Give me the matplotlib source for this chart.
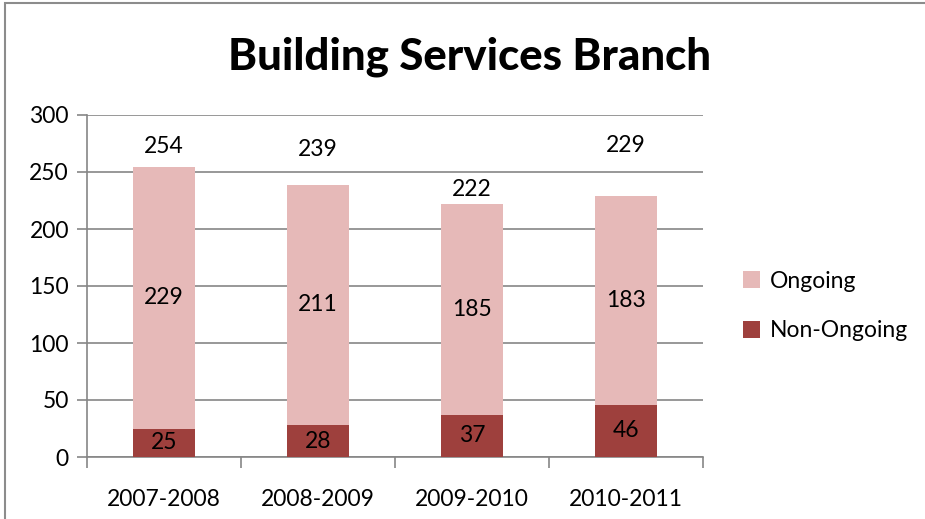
import matplotlib.pyplot as plt
from matplotlib.patches import Rectangle
import numpy as np

plt.rcParams['font.family'] = ['Lato', 'DejaVu Sans']

# Data
years = ['2007-2008', '2008-2009', '2009-2010', '2010-2011']
non_ongoing = [25, 28, 37, 46]
ongoing = [229, 211, 185, 183]

totals = np.array(non_ongoing) + np.array(ongoing)

fig = plt.figure(figsize=(9.25, 5.19), dpi=100)
ax = fig.add_axes([87 / 925, 1 - 457 / 519, 616 / 925, 342 / 519])

# outer chart border (top and left edges visible)
fig.add_artist(Rectangle((5 / 925, -0.05), 1.2, 1.05 - 3 / 519, transform=fig.transFigure,
                         fill=False, edgecolor='#8c8c8c', linewidth=1.5))

x = np.arange(len(years))
bar_w = 0.4
b1 = ax.bar(x, non_ongoing, bar_w, color='#9E403D', label='Non-Ongoing', zorder=3)
b2 = ax.bar(x, ongoing, bar_w, bottom=non_ongoing, color='#E6B9B8', label='Ongoing', zorder=3)

fs = 16.5
for rects in (b1, b2):
    for r in rects:
        ax.text(r.get_x() + r.get_width() / 2, r.get_y() + r.get_height() / 2,
                f'{int(r.get_height())}', ha='center', va='center', fontsize=fs, zorder=4)

# totals above each bar
total_offsets = [18, 31, 13, 44]
for xi, t, off in zip(x, totals, total_offsets):
    ax.text(xi, t + off, f'{t}', ha='center', va='center', fontsize=fs)

ax.set_xlim(-0.5, len(years) - 0.5)
ax.set_ylim(0, 300)
ax.set_yticks(np.arange(0, 301, 50))
ax.set_xticks(x)
ax.set_xticklabels(years, fontsize=fs)
ax.set_xticks(np.arange(-0.5, len(years)), minor=True)
ax.tick_params(axis='x', which='major', length=0, pad=23)
ax.tick_params(axis='x', which='minor', length=8, color='#868686', width=1.2)
ax.tick_params(axis='y', labelsize=fs, length=7, color='#868686', width=1.2, pad=6)

ax.yaxis.grid(True, color='#868686', linewidth=1.2, zorder=0)
ax.set_axisbelow(True)
for side in ('top', 'right'):
    ax.spines[side].set_visible(False)
for side in ('left', 'bottom'):
    ax.spines[side].set_color('#868686')
    ax.spines[side].set_linewidth(1.2)

fig.text(470 / 925, 1 - 57 / 519, 'Building Services Branch', ha='center', va='center',
         fontsize=31.5, fontweight='black')

handles, labels = ax.get_legend_handles_labels()
fig.legend(handles[::-1], labels[::-1], loc='center left', bbox_to_anchor=(722 / 925, 1 - 306 / 519),
           frameon=False, fontsize=fs, handlelength=0.75, handleheight=0.75, handletextpad=0.45,
           labelspacing=1.25)

fig.savefig('out.png', dpi=100)
